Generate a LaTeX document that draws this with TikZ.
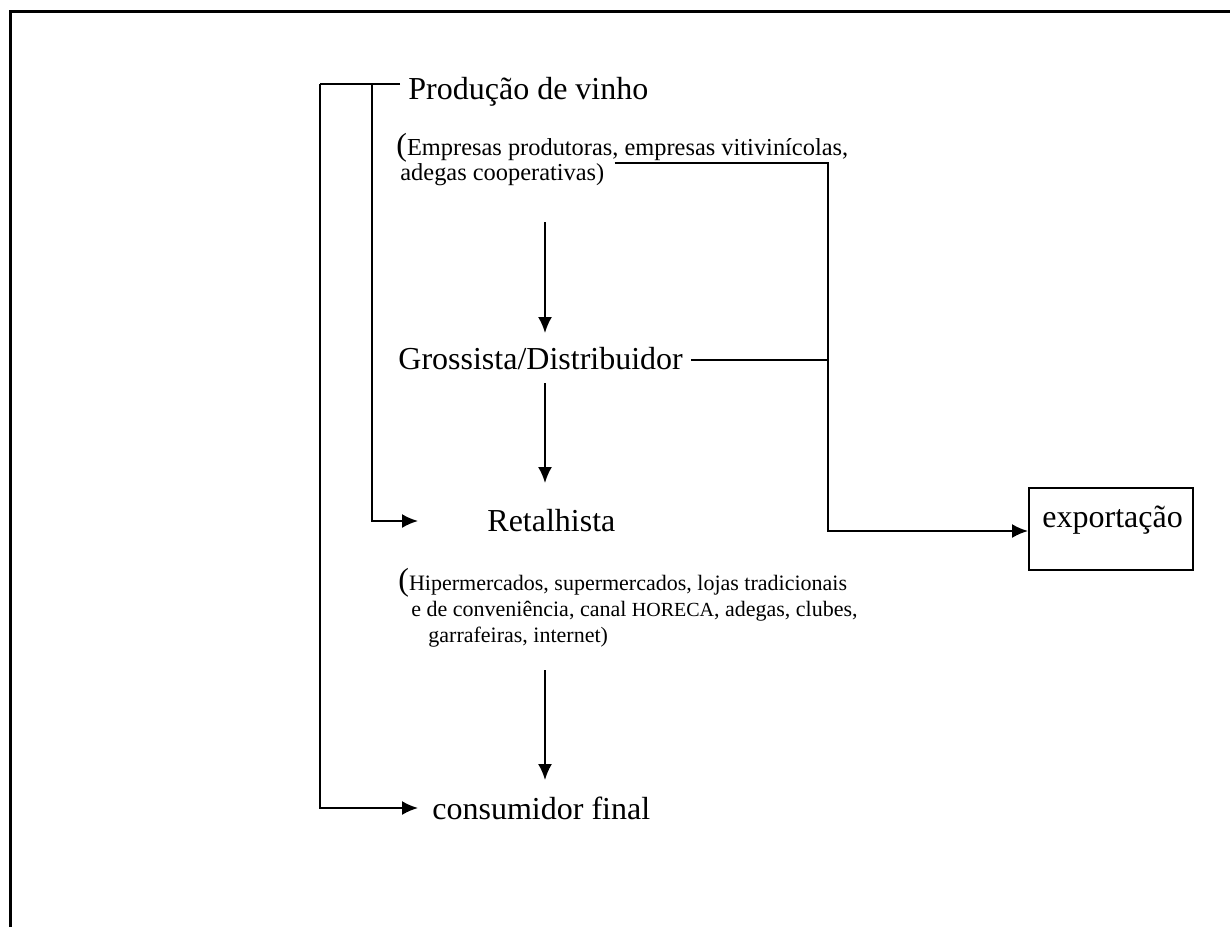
\documentclass[tikz,border=0pt]{standalone}
\usepackage{fontspec}
\setmainfont{Liberation Serif}
\usetikzlibrary{arrows.meta}
\newcommand\fbig{\fontsize{16}{19}\selectfont}
\newcommand\fmid{\fontsize{12.2}{15}\selectfont}
\newcommand\fsmall{\fontsize{11}{13}\selectfont}
\begin{document}
\begin{tikzpicture}[x=0.5pt,y=-0.5pt,
  txt/.style={inner sep=0pt,anchor=base west},
  link/.style={line width=1pt},
  arr/.style={line width=1pt,-{Latex[length=8pt,width=7pt]}},
  frameline/.style={line width=1.5pt}]
\useasboundingbox (0,0) rectangle (1230,927);
% page frame (top and left edges)
\draw[frameline] (10,927) -- (10,11) -- (1230,11);

% texts
\node[txt] (prod) at (408,99) {\fbig Produção de vinho};
\node[txt] (e1) at (396,155) {\fmid{\fbig(}Empresas produtoras, empresas vitivinícolas,};
\node[txt] (e2) at (400,180) {\fmid adegas cooperativas)};
\node[txt] (gros) at (398,369) {\fbig Grossista/Distribuidor};
\node[txt] (ret) at (487,531) {\fbig Retalhista};
\node[txt] (h1) at (398,590) {\fsmall{\fbig(}Hipermercados, supermercados, lojas tradicionais};
\node[txt] (h2) at (411,616) {\fsmall e de conveniência, canal {\fontsize{10}{12}\selectfont HORECA}, adegas, clubes,};
\node[txt] (h3) at (428,642) {\fsmall garrafeiras, internet)};
\node[txt] (cons) at (432,819) {\fbig consumidor final};
\node[draw,line width=1pt,minimum width=82pt,minimum height=41pt,inner sep=0pt] (exp) at (1111,529) {};
\node[txt] (expt) at (1042,527) {\fbig exportação};

% connector corners
\coordinate (pA) at (400,84);
\coordinate (pL) at (320,84);
\coordinate (pM) at (372,84);
\coordinate (retIn) at (418,521);
\coordinate (consIn) at (418,808);
\coordinate (d1a) at (545,222);
\coordinate (d1b) at (545,333);
\coordinate (d2a) at (545,383);
\coordinate (d2b) at (545,483);
\coordinate (d3a) at (545,670);
\coordinate (d3b) at (545,780);
\coordinate (eA) at ([xshift=5pt]e2.east |- 0,163);
\coordinate (gA) at ([xshift=4pt]gros.east |- 0,360);
\coordinate (vX) at (828,360);
\coordinate (vTop) at (828,163);
\coordinate (vBot) at (828,531);

% bracket to retailer and final consumer
\draw[link] (pA) -- (pL);
\draw[arr] (pL) |- (consIn);
\draw[arr] (pM) |- (retIn);

% main chain
\draw[arr] (d1a) -- (d1b);
\draw[arr] (d2a) -- (d2b);
\draw[arr] (d3a) -- (d3b);

% export branch
\draw[link] (eA) -- (vTop) -- (vX);
\draw[link] (gA) -- (vX);
\draw[arr] (vX) -- (vBot) -- (exp.west |- vBot);
\end{tikzpicture}
\end{document}
